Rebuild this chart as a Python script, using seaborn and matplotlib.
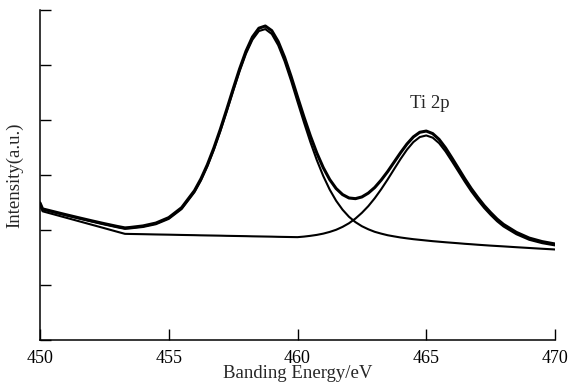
import matplotlib
matplotlib.use("Agg")
import matplotlib.pyplot as plt
import seaborn as sns
import pandas as pd

# Binding energy grid (eV)
energy = [450.0, 450.1, 450.5, 451.0, 451.5, 452.0, 452.5, 453.0, 453.3, 453.5,
          454.0, 454.5, 455.0, 455.5, 456.0, 456.25, 456.5, 456.75, 457.0, 457.25,
          457.5, 457.75, 458.0, 458.25, 458.5, 458.75, 459.0, 459.25, 459.5, 459.75,
          460.0, 460.25, 460.5, 460.75, 461.0, 461.25, 461.5, 461.75, 462.0, 462.25,
          462.5, 462.75, 463.0, 463.25, 463.5, 463.75, 464.0, 464.25, 464.5, 464.75,
          465.0, 465.25, 465.5, 465.75, 466.0, 466.25, 466.5, 466.75, 467.0, 467.25,
          467.5, 467.75, 468.0, 468.5, 469.0, 469.5, 470.0]

# Measured envelope
envelope = [2.493, 2.384, 2.337, 2.279, 2.223, 2.168, 2.115, 2.065, 2.038, 2.046,
            2.074, 2.126, 2.225, 2.406, 2.716, 2.930, 3.188, 3.489, 3.826, 4.189,
            4.563, 4.927, 5.252, 5.509, 5.669, 5.709, 5.625, 5.426, 5.139, 4.794,
            4.421, 4.056, 3.711, 3.400, 3.134, 2.918, 2.754, 2.644, 2.582, 2.570,
            2.601, 2.671, 2.773, 2.908, 3.062, 3.233, 3.404, 3.563, 3.693, 3.777,
            3.799, 3.753, 3.647, 3.492, 3.308, 3.119, 2.929, 2.751, 2.592, 2.444,
            2.316, 2.199, 2.102, 1.957, 1.853, 1.789, 1.746]

# Fitted component 1 (main peak) on background
fit1 = [2.483, 2.374, 2.326, 2.267, 2.210, 2.154, 2.100, 2.049, 2.021, 2.029,
        2.055, 2.105, 2.202, 2.381, 2.688, 2.900, 3.157, 3.456, 3.791, 4.152,
        4.523, 4.885, 5.207, 5.460, 5.617, 5.653, 5.564, 5.360, 5.067, 4.715,
        4.333, 3.958, 3.599, 3.271, 2.982, 2.735, 2.532, 2.369, 2.240, 2.143,
        2.069, 2.013, 1.967, 1.934, 1.905, 1.884, 1.864, 1.848, 1.833, 1.821,
        1.809, 1.797, 1.787, 1.777, 1.768, 1.759, 1.749, 1.741, 1.732, 1.724,
        1.716, 1.709, 1.702, 1.687, 1.673, 1.659, 1.646]

# Fitted component 2 (Ti 2p) on background
fit2 = [2.450, 2.340, 2.289, 2.225, 2.161, 2.097, 2.033, 1.968, 1.930, 1.928,
        1.924, 1.919, 1.915, 1.910, 1.906, 1.903, 1.901, 1.899, 1.897, 1.894,
        1.892, 1.890, 1.888, 1.885, 1.883, 1.881, 1.879, 1.876, 1.874, 1.872,
        1.870, 1.880, 1.894, 1.911, 1.934, 1.965, 2.004, 2.057, 2.123, 2.208,
        2.312, 2.434, 2.578, 2.741, 2.918, 3.105, 3.290, 3.460, 3.599, 3.690,
        3.719, 3.679, 3.578, 3.427, 3.247, 3.062, 2.876, 2.701, 2.545, 2.400,
        2.274, 2.159, 2.064, 1.923, 1.822, 1.761, 1.720]

x_ticks = [450, 455, 460, 465, 470]
y_ticks = [0, 1, 2, 3, 4, 5, 6]

sns.set_style("ticks")
plt.rcParams['font.family'] = ['Liberation Serif', 'DejaVu Serif']

df = pd.DataFrame({"E": energy, "env": envelope, "c1": fit1, "c2": fit2})

fig = plt.figure(figsize=(5.69, 3.86), dpi=100)
ax = fig.add_axes([40/569, 1-340/386, 515/569, 330/386])

sns.lineplot(data=df, x="E", y="c1", ax=ax, color="black", lw=1.5, sort=False)
sns.lineplot(data=df, x="E", y="c2", ax=ax, color="black", lw=1.5, sort=False)
sns.lineplot(data=df, x="E", y="env", ax=ax, color="black", lw=2.2, sort=False)
for ln in ax.lines:
    ln.set_solid_joinstyle("round")
    ln.set_solid_capstyle("round")

ax.set_xlim(450, 470)
ax.set_ylim(0, 6)
ax.set_xticks(x_ticks)
ax.set_xticklabels([str(t) for t in x_ticks])
ax.set_yticks(y_ticks)
ax.set_yticklabels([])
ax.tick_params(direction='in', length=8, width=1.0, labelsize=13, colors='black', pad=7)

for s in ["top", "right"]:
    ax.spines[s].set_visible(False)
for s in ["left", "bottom"]:
    ax.spines[s].set_linewidth(1.1)
    ax.spines[s].set_color("black")

ax.set_xlabel("Banding Energy/eV", fontsize=13.5, labelpad=-1)
ax.set_ylabel("Intensity(a.u.)", fontsize=13.5, labelpad=5)
ax.text(465.15, 4.3, "Ti 2p", fontsize=13.5, ha="center", va="center")

fig.savefig("out.png", dpi=100)
